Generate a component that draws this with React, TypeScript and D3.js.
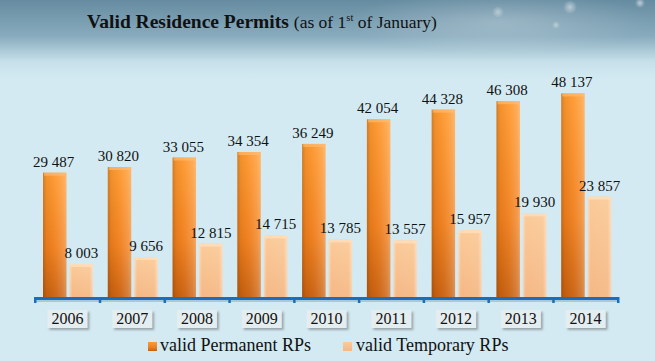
import * as d3 from "d3";

const years = ["2006", "2007", "2008", "2009", "2010", "2011", "2012", "2013", "2014"];
const permanent = [29487, 30820, 33055, 34354, 36249, 42054, 44328, 46308, 48137];
const temporary = [8003, 9656, 12815, 14715, 13785, 13557, 15957, 19930, 23857];
const seriesNames = ["valid Permanent RPs", "valid Temporary RPs"];

const W = 655;
const H = 361;
const FONT = "'Liberation Serif', 'DejaVu Serif', serif";

const fmt = d3.formatLocale({ decimal: ".", thousands: " ", grouping: [3], currency: ["", ""] }).format(",d");

export default function App() {
  const x = d3.scaleBand<string>().domain(years).range([35, 618]);
  const inner = d3.scaleBand<string>().domain(["p", "t"]).range([8, 58]).paddingInner(0.12);
  const y = d3.scaleLinear().domain([0, 50000]).range([298, 85.5]);
  const bw = inner.bandwidth();
  const ticks = [...years.map((yr) => x(yr)!), x.range()[1]];

  return (
    <svg width={W} height={H} style={{ position: "fixed", left: 0, top: 0 }}>
      <defs>
        <linearGradient id="bg" x1="0" y1="0" x2="0" y2="1">
          <stop offset="0" stopColor="#668ca1" />
          <stop offset="0.1" stopColor="#88abbd" />
          <stop offset="0.17" stopColor="#c6e0ea" />
          <stop offset="0.22" stopColor="#d3eaf2" />
          <stop offset="1" stopColor="#d3eaf2" />
        </linearGradient>
        <radialGradient id="glow" cx="0.5" cy="0.5" r="0.5">
          <stop offset="0" stopColor="#ffffff" stopOpacity="0.8" />
          <stop offset="1" stopColor="#ffffff" stopOpacity="0" />
        </radialGradient>
        <linearGradient id="permV" x1="0" y1="0" x2="0" y2="1">
          <stop offset="0" stopColor="#ff9a30" />
          <stop offset="0.6" stopColor="#f07f1c" />
          <stop offset="1" stopColor="#c9600e" />
        </linearGradient>
        <linearGradient id="permH" x1="0" y1="0" x2="1" y2="0">
          <stop offset="0" stopColor="#000" stopOpacity="0.18" />
          <stop offset="0.15" stopColor="#000" stopOpacity="0.05" />
          <stop offset="0.55" stopColor="#fff" stopOpacity="0.05" />
          <stop offset="0.85" stopColor="#fff" stopOpacity="0.18" />
          <stop offset="1" stopColor="#fff" stopOpacity="0.3" />
        </linearGradient>
        <linearGradient id="tempV" x1="0" y1="0" x2="0" y2="1">
          <stop offset="0" stopColor="#fbcb9a" />
          <stop offset="1" stopColor="#f5b885" />
        </linearGradient>
        <linearGradient id="tempH" x1="0" y1="0" x2="1" y2="0">
          <stop offset="0" stopColor="#fff" stopOpacity="0.35" />
          <stop offset="0.12" stopColor="#fff" stopOpacity="0" />
          <stop offset="0.85" stopColor="#fff" stopOpacity="0.05" />
          <stop offset="1" stopColor="#fff" stopOpacity="0.4" />
        </linearGradient>
        <filter id="sh" x="-20%" y="-20%" width="150%" height="150%">
          <feDropShadow dx="2" dy="2" stdDeviation="1.2" floodColor="#555" floodOpacity="0.45" />
        </filter>
      </defs>

      <rect width={W} height={H} fill="url(#bg)" />
      <ellipse cx={500} cy={22} rx={150} ry={32} fill="url(#glow)" opacity={0.3} />
      <circle cx={570} cy={7} r={7} fill="url(#glow)" opacity={0.6} />
      <circle cx={498} cy={12} r={6} fill="url(#glow)" opacity={0.5} />
      <circle cx={556} cy={25} r={4} fill="url(#glow)" opacity={0.5} />
      <circle cx={640} cy={3} r={5} fill="url(#glow)" opacity={0.7} />

      <text x={87} y={28} fontFamily={FONT} fill="#111">
        <tspan fontWeight="bold" fontSize={19.5}>Valid Residence Permits</tspan>
        <tspan dx={5} fontSize={17.5}>(as of 1</tspan>
        <tspan fontSize={10.5} dy={-7}>st</tspan>
        <tspan dy={7} fontSize={17.5}> of January)</tspan>
      </text>

      {years.map((yr, i) => {
        const x0 = x(yr)!;
        const px = x0 + inner("p")!;
        const tx = x0 + inner("t")!;
        const py = y(permanent[i]);
        const ty = y(temporary[i]);
        return (
          <g key={yr}>
            <rect x={px} y={py} width={bw} height={y(0) - py} fill="url(#permV)" />
            <rect x={px} y={py} width={bw} height={y(0) - py} fill="url(#permH)" />
            <rect x={px + 1} y={py} width={bw - 2} height={3} fill="#ffc07a" opacity={0.6} />
            <rect x={tx} y={ty} width={bw} height={y(0) - ty} fill="url(#tempV)" />
            <rect x={tx} y={ty} width={bw} height={y(0) - ty} fill="url(#tempH)" />
            <rect x={tx + 1} y={ty} width={bw - 2} height={3} fill="#ffe2c2" opacity={0.7} />
            <text x={px + bw / 2 - 1} y={py - 6} textAnchor="middle" fontFamily={FONT} fontSize={15} fill="#111">
              {fmt(permanent[i])}
            </text>
            <text x={tx + bw / 2} y={ty - 6} textAnchor="middle" fontFamily={FONT} fontSize={15} fill="#111">
              {fmt(temporary[i])}
            </text>
          </g>
        );
      })}

      <g>
        <rect x={35} y={299} width={584} height={3} fill="#7aa0b8" opacity={0.45} />
        <rect x={34} y={297} width={585} height={3} fill="#1a6ec0" />
        {ticks.map((t, i) => (
          <rect key={i} x={t - 1} y={297} width={2.5} height={6} fill="#1a6ec0" />
        ))}
      </g>

      {years.map((yr) => {
        const cx = x(yr)! + x.bandwidth() / 2;
        return (
          <g key={"l" + yr}>
            <rect x={cx - 20} y={310} width={40} height={18} fill="#e4edf0" filter="url(#sh)" />
            <text x={cx} y={324} textAnchor="middle" fontFamily={FONT} fontSize={16} fill="#111">
              {yr}
            </text>
          </g>
        );
      })}

      <rect x={148} y={342} width={9} height={9} fill="url(#permV)" />
      <text x={160} y={351} fontFamily={FONT} fontSize={18} fill="#111">{seriesNames[0]}</text>
      <rect x={343} y={342} width={9} height={9} fill="url(#tempV)" />
      <text x={356} y={351} fontFamily={FONT} fontSize={18} fill="#111">{seriesNames[1]}</text>
    </svg>
  );
}
